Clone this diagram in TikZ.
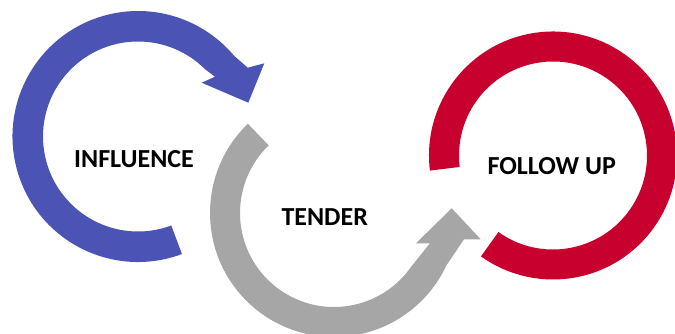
\documentclass[tikz,border=0pt]{standalone}
\usepackage{fontspec}
\setmainfont{Carlito}
\usetikzlibrary{calc}
\definecolor{infl}{RGB}{75,84,180}
\definecolor{tend}{RGB}{166,166,166}
\definecolor{foll}{RGB}{200,0,46}
\begin{document}
\begin{tikzpicture}[x=1pt, y=1pt, lbl/.style = {font=\fontsize{26}{30}\selectfont\bfseries, inner sep=0pt}]
  \useasboundingbox (0,0) rectangle (675,334);
  \clip (0,0) rectangle (675,334);
  \coordinate (b) at (138,197.5);
  \coordinate (g) at (334,121);
  \coordinate (r) at (553,178.5);
  % red ring
  \fill[foll] ($(r)+(187:124)$) arc[start angle=187, end angle=-125.5, radius=124]
    -- ($(r)+(-125.5:94)$) arc[start angle=-125.5, end angle=187, radius=94] -- cycle;
  % grey arrow
  \fill[tend] ($(g)+(134:124)$) arc[start angle=134, end angle=335, radius=124]
    -- (464,94.7) -- (480.7,94.7) -- (451.7,125.7) -- (416,90.7) -- (430,90.7)
    -- ($(g)+(325:94)$) arc[start angle=325, end angle=134, radius=94] -- cycle;
  % blue arrow
  \fill[infl] ($(b)+(-69.5:125.5)$) arc[start angle=-69.5, end angle=-320, radius=125.5]
    -- (247.7,266.3) -- (264.3,270.7) -- (248.3,231.3) -- (201.7,251.3) -- (215,257.3)
    -- ($(b)+(45:95)$) arc[start angle=-315, end angle=-69.5, radius=95] -- cycle;
  \node[lbl] (influence) at (134,175) {INFLUENCE};
  \node[lbl] (tender) at (324.7,117) {TENDER};
  \node[lbl] (followup) at (551.7,168.3) {FOLLOW UP};
\end{tikzpicture}
\end{document}
